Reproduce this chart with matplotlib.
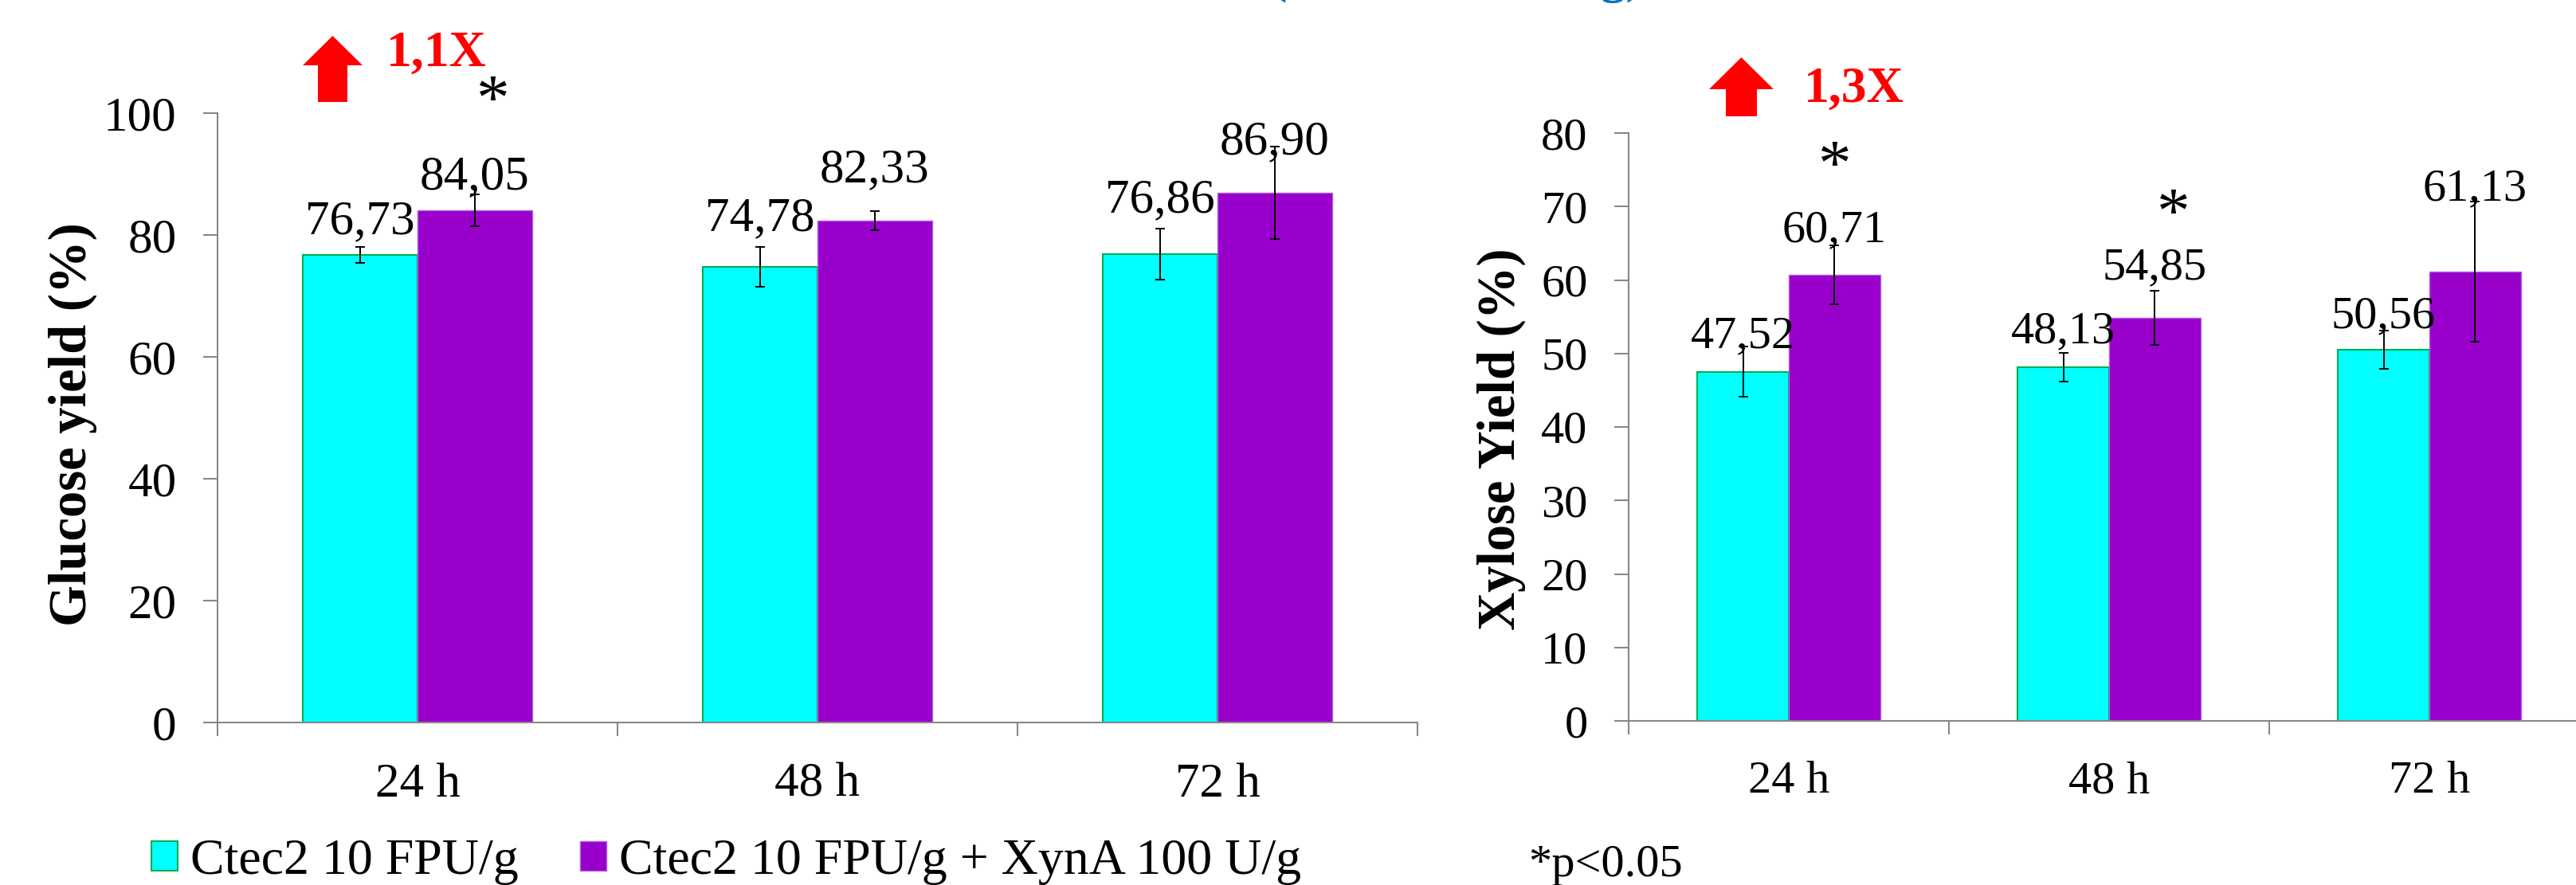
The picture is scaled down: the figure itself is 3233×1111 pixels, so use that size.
"""
Glucose / xylose yield bar charts (Ctec2 vs Ctec2 + XynA).
"""

import matplotlib
matplotlib.use('Agg')
import matplotlib.pyplot as plt
from matplotlib.patches import Polygon, Patch
import numpy as np

plt.rcParams['font.family'] = ['Liberation Serif', 'DejaVu Serif']

# data
times = ['24 h', '48 h', '72 h']
series_labels = ['Ctec2 10 FPU/g', 'Ctec2 10 FPU/g + XynA 100 U/g']

glucose_ctec = [76.73, 74.78, 76.86]
glucose_ctec_err = [1.3, 3.3, 4.2]
glucose_xyn = [84.05, 82.33, 86.90]
glucose_xyn_err = [2.6, 1.6, 7.6]

xylose_ctec = [47.52, 48.13, 50.56]
xylose_ctec_err = [3.4, 2.0, 2.6]
xylose_xyn = [60.71, 54.85, 61.13]
xylose_xyn_err = [4.0, 3.7, 9.5]

# how high (points) each value label sits above its bar, as in the original
glucose_lift = ([19, 33, 38], [19, 35, 35])
xylose_lift = ([22, 22, 20], [30, 35, 65])

# significance marks: (panel, group index, x shift, y of the star baseline)
stars = [('glucose', 0, 0.045, 99.0), ('xylose', 0, 0.0, 73.0),
         ('xylose', 1, 0.057, 66.5)]

CYAN = '#00FFFF'
CYAN_EDGE = '#00B050'
PURPLE = '#9900CC'
PURPLE_EDGE = '#B060E0'
GRAY = '#888888'
W, H = 3233, 1111


def draw_panel(ax, a, a_err, b, b_err, lifts, ymax, ystep, ylabel, fs):
    x = np.arange(len(times))
    w = 0.286
    ekw = dict(ecolor='black', elinewidth=1.4, capsize=4.5, capthick=1.4)
    ax.bar(x - w / 2, a, w, yerr=a_err, color=CYAN, edgecolor=CYAN_EDGE,
           linewidth=1.5, error_kw=ekw, zorder=2)
    ax.bar(x + w / 2, b, w, yerr=b_err, color=PURPLE, edgecolor=PURPLE_EDGE,
           linewidth=1.0, error_kw=ekw, zorder=2)

    for xs, vals, lift in [(x - w / 2, a, lifts[0]), (x + w / 2, b, lifts[1])]:
        for xi, v, off in zip(xs, vals, lift):
            ax.annotate(f'{v:.2f}'.replace('.', ','), (xi, v),
                        xytext=(0, off), textcoords='offset points',
                        ha='center', va='baseline', fontsize=fs, zorder=3)

    ax.set_xlim(-0.5, len(times) - 0.5)
    ax.set_ylim(0, ymax)
    ax.set_yticks(np.arange(0, ymax + 1, ystep))
    ax.set_xticks(x)
    ax.set_xticklabels(times)
    ax.set_xticks(np.arange(-0.5, len(times)), minor=True)
    ax.tick_params(axis='x', which='major', length=0, pad=36, labelsize=fs)
    ax.tick_params(axis='x', which='minor', length=12, width=1.5,
                   color=GRAY, direction='out')
    ax.tick_params(axis='y', length=13, width=1.5, color=GRAY,
                   direction='out', pad=24, labelsize=fs)
    for s in ['top', 'right']:
        ax.spines[s].set_visible(False)
    for s in ['left', 'bottom']:
        ax.spines[s].set_color(GRAY)
        ax.spines[s].set_linewidth(1.5)
    ax.set_ylabel(ylabel, fontsize=48, fontweight='bold')


def up_arrow(fig, x0, x1, s0, s1, top, head, bottom):
    pts = [(s0, bottom), (s0, head), (x0, head), ((x0 + x1) / 2, top),
           (x1, head), (s1, head), (s1, bottom)]
    pts = [(px / W, 1 - py / H) for px, py in pts]
    fig.add_artist(Polygon(pts, closed=True, facecolor='red',
                           edgecolor='none', transform=fig.transFigure))


fig = plt.figure(figsize=(W / 100, H / 100), dpi=100)

ax1 = fig.add_axes([273 / W, 1 - 907 / H, 1506 / W, 765 / H])
draw_panel(ax1, glucose_ctec, glucose_ctec_err, glucose_xyn, glucose_xyn_err,
           glucose_lift, 100, 20, 'Glucose yield (%)', 44)
ax1.yaxis.set_label_coords(-0.100, 0.49)

ax2 = fig.add_axes([2044 / W, 1 - 905 / H, 1206 / W, 738 / H])
draw_panel(ax2, xylose_ctec, xylose_ctec_err, xylose_xyn, xylose_xyn_err,
           xylose_lift, 80, 10, 'Xylose Yield (%)', 42)
ax2.yaxis.set_label_coords(-0.107, 0.48)

panels = {'glucose': ax1, 'xylose': ax2}
for name, gi, dx, ys in stars:
    panels[name].text(gi + 0.143 + dx, ys, '*', fontsize=60, ha='center',
                      va='baseline', clip_on=False)

# fold-change arrows
up_arrow(fig, 380, 455, 399, 436, 45, 82, 128)
up_arrow(fig, 2145, 2226, 2166, 2205, 72, 112, 146)
fig.text(485 / W, 1 - 83 / H, '1,1X', color='red', fontsize=46,
         fontweight='bold', va='baseline')
fig.text(2264 / W, 1 - 128 / H, '1,3X', color='red', fontsize=46,
         fontweight='bold', va='baseline')

# title, cut off at the top of the image
fig.text(1594 / W, 1 + 10 / H, '(Ctec2 10 FPU/g)', color='#0070C0',
         fontsize=46, fontweight='bold', va='baseline')

handles = [Patch(facecolor=CYAN, edgecolor=CYAN_EDGE, linewidth=1.5),
           Patch(facecolor=PURPLE, edgecolor=PURPLE_EDGE, linewidth=1.0)]
fig.legend(handles, series_labels, loc='lower left',
           bbox_to_anchor=(190 / W, 0.0), ncol=2, frameon=False,
           fontsize=46, handlelength=0.52, handleheight=0.52,
           handletextpad=0.25, columnspacing=1.2, borderpad=0,
           borderaxespad=0)
fig.text(1918 / W, 1 - 1100 / H, '*p<0.05', fontsize=42, va='baseline')

fig.savefig('out.png', dpi=100, facecolor='white')
